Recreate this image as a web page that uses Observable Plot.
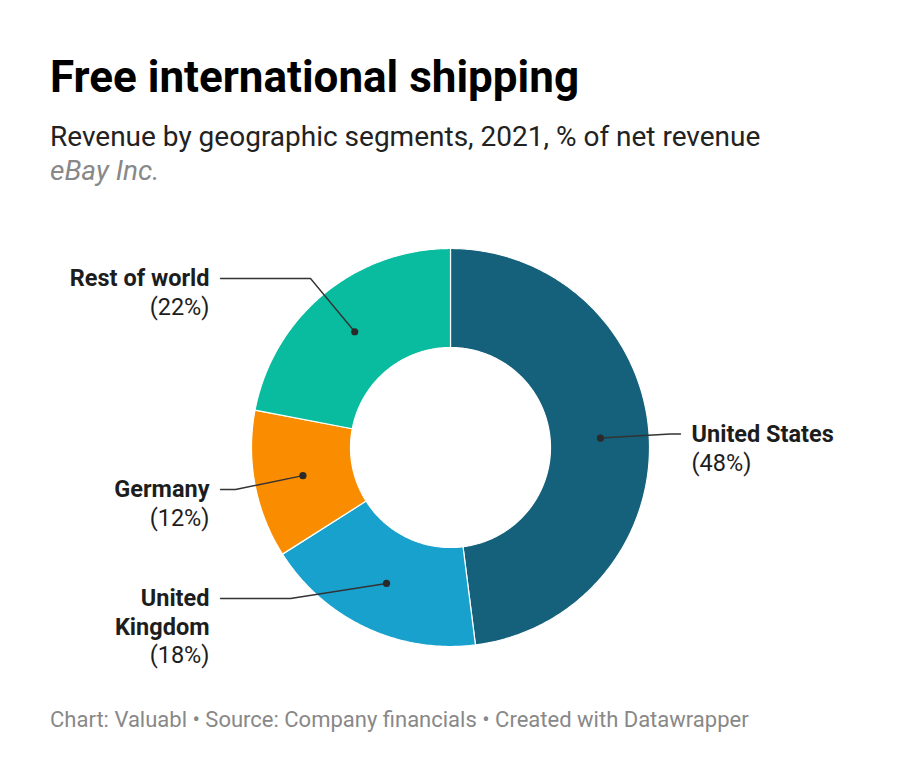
<!DOCTYPE html>
<html><head><meta charset="utf-8">
<script src="https://cdn.jsdelivr.net/npm/d3@7"></script>
<script src="https://cdn.jsdelivr.net/npm/@observablehq/plot@0.6"></script>
<style>
body{margin:0;background:#fff;font-family:Roboto,sans-serif;}
#wrap{position:relative;width:900px;height:784px;overflow:hidden;}
.t{position:absolute;left:50px;white-space:nowrap;}
#title{top:52px;font-size:44px;line-height:50px;font-weight:700;color:#000;}
#sub{top:119px;font-size:28px;line-height:36px;color:#222;}
#src{top:153px;font-size:28px;line-height:36px;color:#888;font-style:italic;}
#foot{top:705px;font-size:22px;line-height:30px;color:#888;}
#chart{position:absolute;left:0;top:188px;}
</style></head><body>
<div id="wrap">
<div class="t" id="title">Free international shipping</div>
<div class="t" id="sub">Revenue by geographic segments, 2021, % of net revenue</div>
<div class="t" id="src">eBay Inc.</div>
<div id="chart"></div>
<div class="t" id="foot">Chart: Valuabl • Source: Company financials • Created with Datawrapper</div>
</div>
<script>
// ---- data ----
const categories = ["United States", "United Kingdom", "Germany", "Rest of world"];
const shares = [48, 18, 12, 22];
const colors = ["#15607a", "#18a1cd", "#fa8c00", "#09bb9f"];

// ---- layout (pixels within the SVG) ----
const W = 900, H = 512, R = 199, innerRatio = 100 / 199, dotRatio = 0.755;
const cx = 450, cy = 259;
const lineGap = 28.5;
const labelLayout = {
  "United States":  {side: "right", elbow: [670, 245.5], end: 680, y: 246, lines: ["United States"]},
  "United Kingdom": {side: "left",  elbow: [290, 410],   end: 220, y: 410, lines: ["United", "Kingdom"]},
  "Germany":        {side: "left",  elbow: [235, 301],   end: 220, y: 301, lines: ["Germany"]},
  "Rest of world":  {side: "left",  elbow: [310, 90],    end: 220, y: 90,  lines: ["Rest of world"]}
};
const ux = px => (px - cx) / R;   // pixel -> scale units
const uy = py => (cy - py) / R;

// ---- derived geometry (angles from the shares) ----
const total = d3.sum(shares);
let acc = 0;
const slices = categories.map((c, i) => {
  const a0 = acc / total * 2 * Math.PI;
  acc += shares[i];
  const a1 = acc / total * 2 * Math.PI;
  return {cat: c, share: shares[i], a0, a1, mid: (a0 + a1) / 2};
});
const pt = (a, rad) => [Math.sin(a) * rad, Math.cos(a) * rad];
const arcPts = [];
for (const s of slices) {
  const n = Math.max(8, Math.ceil((s.a1 - s.a0) / 0.01));
  const ring = [];
  for (let k = 0; k <= n; k++) ring.push(pt(s.a0 + (s.a1 - s.a0) * k / n, 1));
  for (let k = n; k >= 0; k--) ring.push(pt(s.a0 + (s.a1 - s.a0) * k / n, innerRatio));
  ring.push(ring[0]);
  ring.forEach(([x, y]) => arcPts.push({cat: s.cat, x, y}));
}
const dots = slices.map(s => { const [x, y] = pt(s.mid, dotRatio); return {cat: s.cat, x, y}; });
const leaders = [];
dots.forEach(d => {
  const L = labelLayout[d.cat];
  leaders.push({cat: d.cat, x: d.x, y: d.y});
  leaders.push({cat: d.cat, x: ux(L.elbow[0]), y: uy(L.elbow[1])});
  leaders.push({cat: d.cat, x: ux(L.end), y: uy(L.elbow[1])});
});
const labelLines = [];
slices.forEach(s => {
  const L = labelLayout[s.cat];
  const tx = L.side === "left" ? L.end - 11 : L.end + 11;
  const all = [...L.lines.map(t => ({t, bold: true})), {t: `(${s.share}%)`, bold: false}];
  all.forEach((l, i) => labelLines.push({
    cat: s.cat, text: l.t, bold: l.bold, anchor: L.side === "left" ? "end" : "start",
    x: ux(tx), y: uy(L.y + i * lineGap)
  }));
});

const textOpts = (bold, anchor) => ({
  x: "x", y: "y", text: "text", textAnchor: anchor, lineAnchor: "middle",
  fontSize: 23.5, fontWeight: bold ? 700 : 400, fill: "#1d1d1d", fontFamily: "Roboto"
});

const chart = Plot.plot({
  width: W, height: H, margin: 0,
  x: {domain: [ux(0), ux(W)], range: [0, W], axis: null},
  y: {domain: [uy(H), uy(0)], range: [H, 0], axis: null},
  color: {domain: categories, range: colors},
  style: {fontFamily: "Roboto", background: "white"},
  marks: [
    Plot.line(arcPts, {x: "x", y: "y", z: "cat", fill: "cat", stroke: "white", strokeWidth: 1.2, curve: "linear"}),
    Plot.line(leaders, {x: "x", y: "y", z: "cat", stroke: "#333", strokeWidth: 1.4}),
    Plot.dot(dots, {x: "x", y: "y", r: 3.6, fill: "#2a2a2a", stroke: "none"}),
    ...["end", "start"].flatMap(anchor => [true, false].map(bold =>
      Plot.text(labelLines.filter(d => d.anchor === anchor && d.bold === bold), textOpts(bold, anchor))))
  ]
});
document.getElementById("chart").appendChild(chart);
</script>
</body></html>
